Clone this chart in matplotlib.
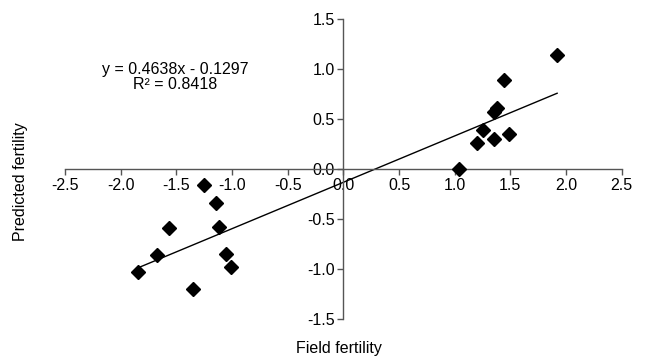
import numpy as np
import matplotlib
matplotlib.use('Agg')
import matplotlib.pyplot as plt

plt.rcParams['font.family'] = ['Liberation Sans', 'DejaVu Sans']

# field vs predicted fertility
field = [-1.84, -1.67, -1.57, -1.35, -1.25, -1.14, -1.12, -1.05, -1.01,
         1.04, 1.20, 1.25, 1.35, 1.35, 1.38, 1.49, 1.44, 1.92]
predicted = [-1.03, -0.86, -0.59, -1.20, -0.16, -0.34, -0.58, -0.85, -0.98,
             0.00, 0.26, 0.39, 0.30, 0.57, 0.61, 0.35, 0.89, 1.14]

slope = 0.4638
intercept = -0.1297
r2 = 0.8418

xticks = [-2.5, -2.0, -1.5, -1.0, -0.5, 0.0, 0.5, 1.0, 1.5, 2.0, 2.5]
yticks = [-1.5, -1.0, -0.5, 0.0, 0.5, 1.0, 1.5]

fs = 11.5

fig = plt.figure(figsize=(6.46, 3.58), dpi=100)
ax = fig.add_axes([0.1006, 0.108, 0.8618, 0.838])

ax.plot(field, predicted, 'kD', markersize=7, zorder=3)

xfit = np.array([min(field), max(field)])
ax.plot(xfit, slope * xfit + intercept, 'k-', linewidth=1)

ax.set_xlim(-2.5, 2.5)
ax.set_ylim(-1.5, 1.5)
ax.set_xticks(xticks)
ax.set_yticks(yticks)
ax.set_xticklabels([f'{t:.1f}' for t in xticks])
ax.set_yticklabels([f'{t:.1f}' for t in yticks])

for side in ['top', 'right']:
    ax.spines[side].set_visible(False)
ax.spines['left'].set_position(('data', 0))
ax.spines['bottom'].set_position(('data', 0))
for side in ['left', 'bottom']:
    ax.spines[side].set_color('#555555')
    ax.spines[side].set_linewidth(1)
ax.tick_params(direction='out', length=4, width=1, color='#555555',
               labelsize=fs, pad=2)

ax.text(-1.51, 1.0, f'y = {slope}x - {abs(intercept)}', ha='center', va='center', fontsize=fs)
ax.text(-1.51, 0.85, f'R² = {r2}', ha='center', va='center', fontsize=fs)

fig.text(0.525, 0.026, 'Field fertility', ha='center', va='center', fontsize=fs)
fig.text(0.0325, 0.493, 'Predicted fertility', ha='center', va='center',
         rotation=90, fontsize=fs)

plt.savefig('out.png', dpi=100)
